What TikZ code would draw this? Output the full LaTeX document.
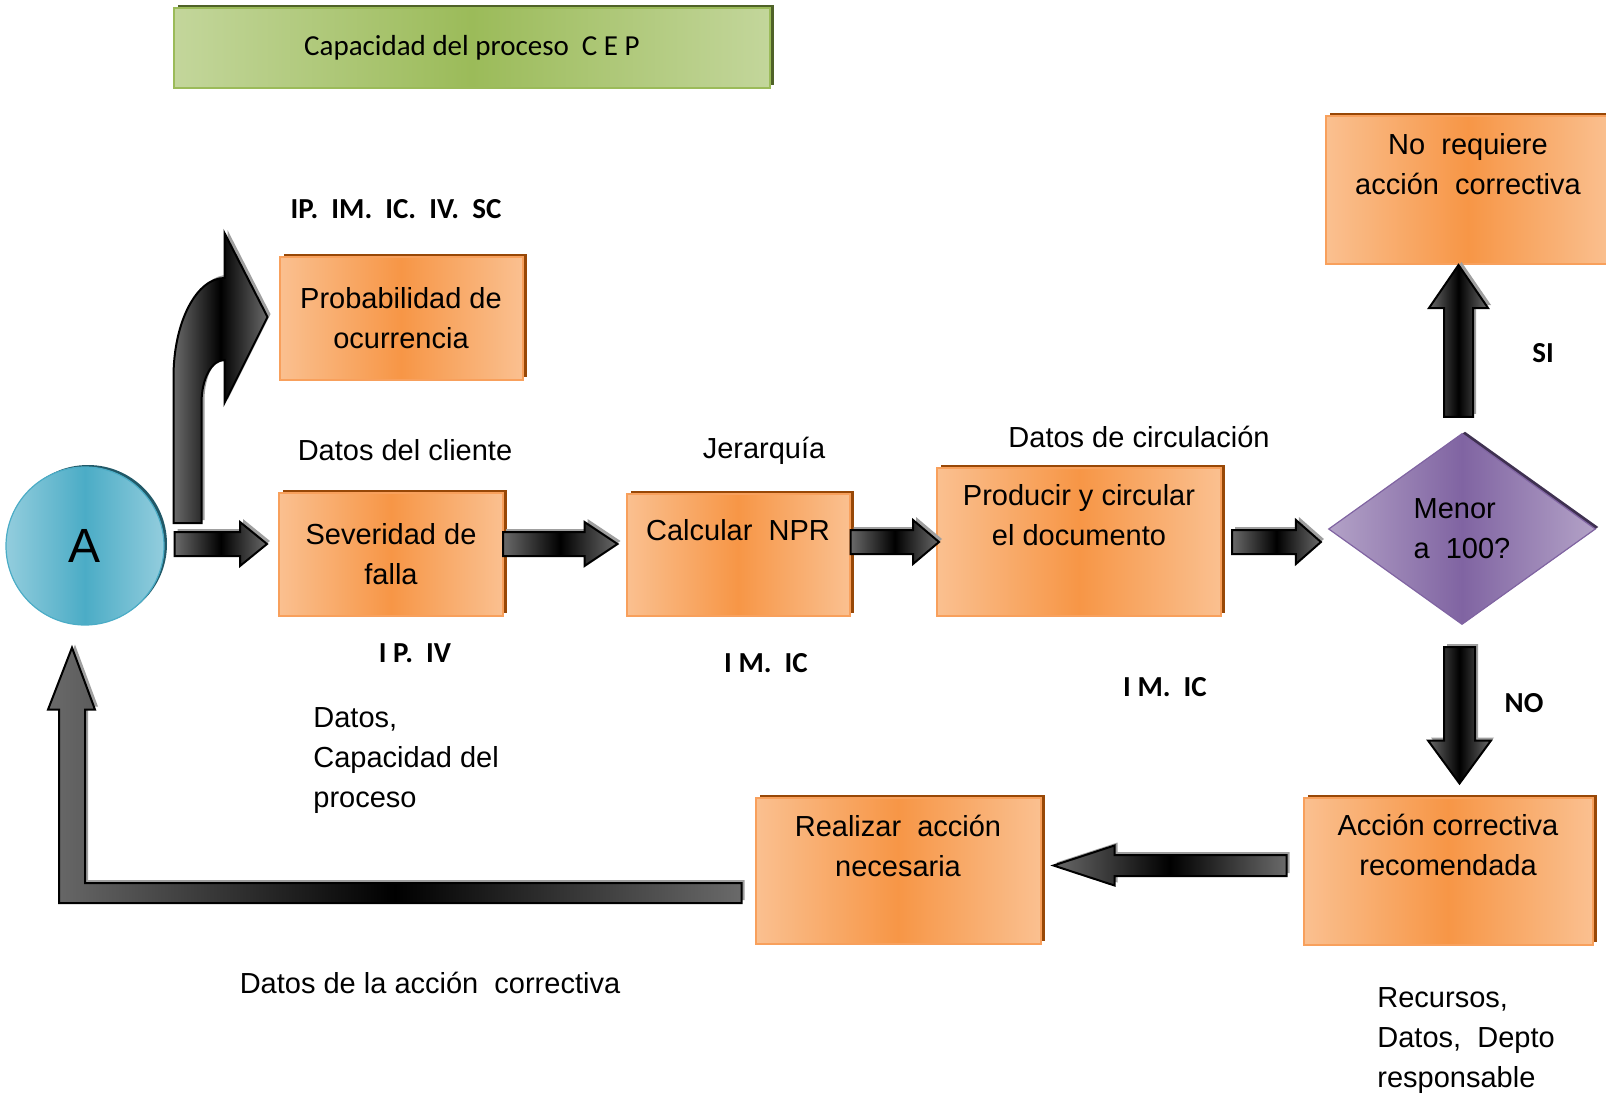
\documentclass[tikz,border=0pt]{standalone}
\usepackage{fontspec}
\setmainfont{Liberation Sans}
\newfontfamily\clbfont{Carlito}
\usetikzlibrary{calc,shapes.geometric,shadows}

\definecolor{orlt}{HTML}{FAC090}
\definecolor{ormid}{HTML}{F79646}
\definecolor{orln}{HTML}{F8A05C}
\definecolor{orsh}{HTML}{984807}
\definecolor{grlt}{HTML}{C3D69B}
\definecolor{grmid}{HTML}{9BBB59}
\definecolor{grsh}{HTML}{4F6228}
\definecolor{bllt}{HTML}{93CDDD}
\definecolor{blmid}{HTML}{4BACC6}
\definecolor{blsh}{HTML}{215968}
\definecolor{pult}{HTML}{B3A2C7}
\definecolor{pumid}{HTML}{8064A2}
\definecolor{push}{HTML}{3F3151}
\definecolor{agray}{HTML}{6A6A6A}

\newcommand\txtfont{\fontsize{14.5}{20}\selectfont}

\tikzset{
  obox/.style={draw=orln,line width=1pt,left color=orlt,right color=orlt,middle color=ormid,
    drop shadow={shadow xshift=2pt,shadow yshift=1.5pt,fill=orsh,opacity=1},
    inner sep=0pt,align=center,font=\txtfont},
  gbox/.style={draw=grmid,line width=1pt,left color=grlt,right color=grlt,middle color=grmid,
    drop shadow={shadow xshift=2pt,shadow yshift=1.5pt,fill=grsh,opacity=1},
    inner sep=0pt,font=\clbfont\txtfont},
  cbox/.style={circle,draw=blmid,line width=.6pt,left color=bllt,right color=bllt,middle color=blmid,
    drop shadow={shadow xshift=1.5pt,shadow yshift=1pt,fill=blsh,opacity=1},
    inner sep=0pt,font=\fontsize{24}{28}\selectfont},
  dbox/.style={diamond,draw=pumid,line width=.6pt,left color=pult,right color=pult,middle color=pumid,
    drop shadow={shadow xshift=1.5pt,shadow yshift=1pt,fill=push,opacity=1},
    inner sep=0pt,align=left,font=\txtfont},
  lbl/.style={inner sep=0pt,font=\txtfont},
  tag/.style={inner sep=0pt,font=\clbfont\bfseries\txtfont},
  arr/.style={draw=black,line width=1pt,left color=agray,right color=agray,middle color=black,
    drop shadow={shadow xshift=1.5pt,shadow yshift=1.5pt,fill=gray!75,opacity=1}},
  % straight block arrow: shaft half width, head half width, head length (px)
  blk/.style n args={3}{to path={
    let \p1=(\tikztostart), \p2=(\tikztotarget),
        \n1={atan2(\y2-\y1,\x2-\x1)}, \n2={veclen(\x2-\x1,\y2-\y1)} in
    [shift={(\p1)},rotate=\n1]
    (0pt,{#1*.5pt}) -- ({\n2-#3*.5pt},{#1*.5pt}) -- ({\n2-#3*.5pt},{#2*.5pt}) -- (\n2,0pt)
    -- ({\n2-#3*.5pt},{-#2*.5pt}) -- ({\n2-#3*.5pt},{-#1*.5pt}) -- (0pt,{-#1*.5pt}) -- cycle}}
}

\begin{document}
\begin{tikzpicture}[x=.5pt,y=-.5pt]
\useasboundingbox (0,0) rectangle (1606,1102);

%Title
\node[gbox,minimum width=298pt,minimum height=40pt] (cep) at (472,48) {Capacidad del proceso\ \ C E P};

%Boxes
\node[cbox,minimum size=79pt] (A) at (85,546) {A};
\node[obox,minimum width=121.5pt,minimum height=61.5pt] (prob) at (401,318) {Probabilidad de\\ocurrencia};
\node[obox,minimum width=112pt,minimum height=61.5pt] (sev) at (391,554) {Severidad de\\falla};
\node[obox,minimum width=111.5pt,text height=23pt,text depth=38pt] (npr) at (738,555) {Calcular\ \ NPR};
\node[obox,minimum width=142pt,text height=38.5pt,text depth=35.5pt] (doc) at (1079,542) {Producir y circular\\el documento};
\node[dbox,minimum width=133.5pt,minimum height=95.5pt] (menor) at (1462,529) {Menor\\a\ \ 100?};
\node[obox,minimum width=142pt,text height=39pt,text depth=35pt] (noreq) at (1468,190) {No\ \ requiere\\acción\ \ correctiva};
\node[obox,minimum width=144.5pt,text height=39pt,text depth=34.5pt] (recom) at (1448,871) {Acción correctiva\\recomendada};
\node[obox,minimum width=142.5pt,text height=39pt,text depth=34pt] (accion) at (898,871) {Realizar\ \ acción\\necesaria};

%Arrows
\draw[arr,blk={12}{22}{27}] ($(A.east)+(10,-2)$) to ($(sev.west)+(-11,-10)$);
\draw[arr,blk={12}{22}{33}] ($(sev.east)+(-1,-10)$) to ($(npr.west)+(-8,-11)$);
\draw[arr,blk={12}{22}{26}] ($(npr.east)+(0,-13)$) to ($(doc.west)+(3,0)$);
\draw[arr,blk={12}{22}{25}] ($(doc.east)+(10,0)$) to ($(menor.west)+(-7,13)$);
\draw[arr,blk={14.5}{29.5}{43}] ($(menor.north)+(-3.5,-16)$) to ($(noreq.south)+(-9.5,0)$);
\draw[arr,blk={15.5}{31.5}{43}] ($(menor.south)+(-2.5,22)$) to ($(recom.north)+(11.5,-13)$);
\draw[arr,blk={10.5}{20}{61}] ($(recom.west)+(-16,-5.5)$) to ($(accion.east)+(12,-5.5)$);

\coordinate (tipprob) at ($(prob.west)+(-11,-1)$);
\draw[arr] (tipprob) -- ++(-43,-84) -- ++(0,45) .. controls +(-28,0) and +(0,-55) .. ++(-51,99)
  -- ++(0,146) -- ++(28,0) -- ++(0,-120) .. controls +(0,-24) and +(-13,0) .. ++(23,-43) -- ++(0,43) -- cycle;

\coordinate (fbtail) at ($(accion.west)+(-13,22)$);
\coordinate (fbtip) at ($(A.south)+(-13,22)$);
\draw[arr] ($(fbtail)+(0,-10)$) -| ($(fbtip)+(13,62)$) -- ++(10,0) -- (fbtip) -- ++(-24,62) -- ++(11,0)
  |- ($(fbtail)+(0,10)$) -- cycle;

%Labels
\foreach \x/\y/\t/\n in {396/209/{IP.\ \ IM.\ \ IC.\ \ IV.\ \ SC}/tprob,415/653/{I P.\ \ IV}/tsev,
  766/663/{I M.\ \ IC}/tnpr,1165/687/{I M.\ \ IC}/tdoc,1543/353/SI/tsi,1524/703/NO/tno}
  \node[tag] (\n) at (\x,\y) {\t};
\foreach \x/\y/\t/\n in {405/450/{Datos del cliente}/dcli,764/451/{Jerarquía}/djer,
  1139/437/{Datos de circulación}/dcir,430/983/{Datos de la acción\ \ correctiva}/dacc}
  \node[lbl] (\n) at (\x,\y) {\t};
\node[lbl,align=left,anchor=north west] (dcap) at (313,707) {Datos,\\Capacidad del\\proceso};
\node[lbl,align=left,anchor=north west] (drec) at (1377,987) {Recursos,\\Datos,\ \ Depto\\responsable};

\end{tikzpicture}
\end{document}
